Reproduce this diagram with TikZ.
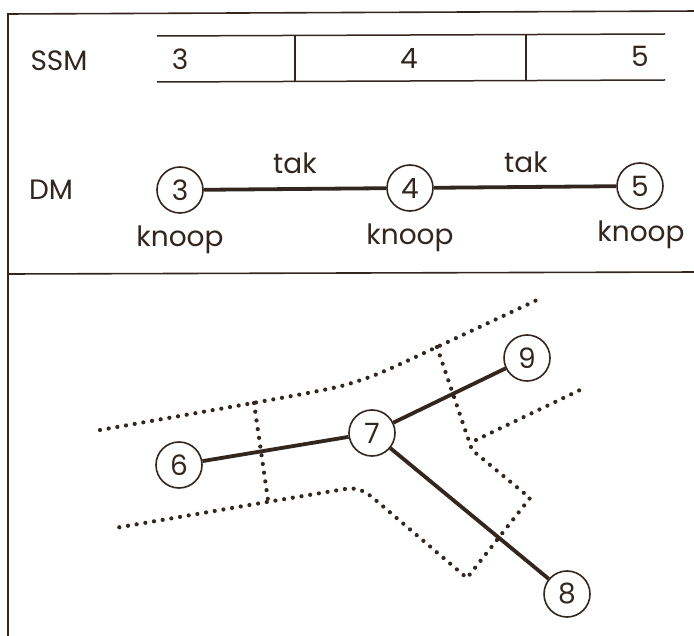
\documentclass[tikz,border=0pt]{standalone}
\usepackage{fontspec}
\setmainfont{Poppins}
\definecolor{ink}{RGB}{50,38,30}
\begin{document}
\begin{tikzpicture}[x=1pt,y=-1pt,
  every node/.style={text=ink,font=\fontsize{28}{32}\selectfont},
  frame/.style={draw=ink,line width=1.6pt},
  band/.style={draw=ink,line width=1.5pt},
  knot/.style={circle,draw=ink,line width=1.6pt,minimum size=46pt,inner sep=0pt,fill=white},
  branch/.style={draw=ink,line width=3.8pt},
  pipe/.style={draw=ink,line width=4.2pt,line cap=round,dash pattern=on 0pt off 8.8pt},
  lbl/.style={inner sep=0pt}]
\useasboundingbox (0,0) rectangle (694,636);

% outer frame and divider
\draw[frame] (8,640) -- (8,14) -- (700,11);
\draw[frame] (8,274) -- (700,272);

% SSM strip
\draw[band] (157,36) -- (665,34);
\draw[band] (157,82) -- (665,80);
\draw[band] (295,36) -- (295,81);
\draw[band] (526,35) -- (526,80);
\node[lbl] (ssm) at (59,61) {SSM};
\node[lbl] (s3) at (180,59) {3};
\node[lbl] (s4) at (409,58) {4};
\node[lbl] (s5) at (640,56) {5};

% DM chain
\node[lbl] (dm) at (51,190) {DM};
\node[knot] (d3) at (180,190) {3};
\node[knot] (d4) at (410,188) {4};
\node[knot] (d5) at (640,186) {5};
\draw[branch] (d3) -- (d4);
\draw[branch] (d4) -- (d5);
\node[lbl] (t1) at (295,163) {tak};
\node[lbl] (t2) at (526,162) {tak};
\node[lbl] (k3) at (180,240) {knoop};
\node[lbl] (k4) at (410,238) {knoop};
\node[lbl] (k5) at (641,235) {knoop};

% pipe outlines
\draw[pipe] plot[smooth,tension=0.5] coordinates
  {(100,430) (253,403) (313,392) (345,385) (380,373) (437,347) (537,300)};
\draw[pipe] (254,403) -- (268,500);
\draw[pipe] (437,347) -- (472,450) -- (530,498) -- (467,578) -- (372,497)
  .. controls (360,488) and (355,488) .. (345,489) -- (267,502) -- (115,528);
\draw[pipe] (476,440) -- (580,390);

% network
\node[knot] (n6) at (179,465) {6};
\node[knot] (n7) at (372,433) {7};
\node[knot] (n9) at (527,358) {9};
\node[knot] (n8) at (567,594) {8};
\draw[branch] (n6) -- (n7);
\draw[branch] (n7) -- (n9);
\draw[branch] (n7) -- (n8);
\end{tikzpicture}
\end{document}
